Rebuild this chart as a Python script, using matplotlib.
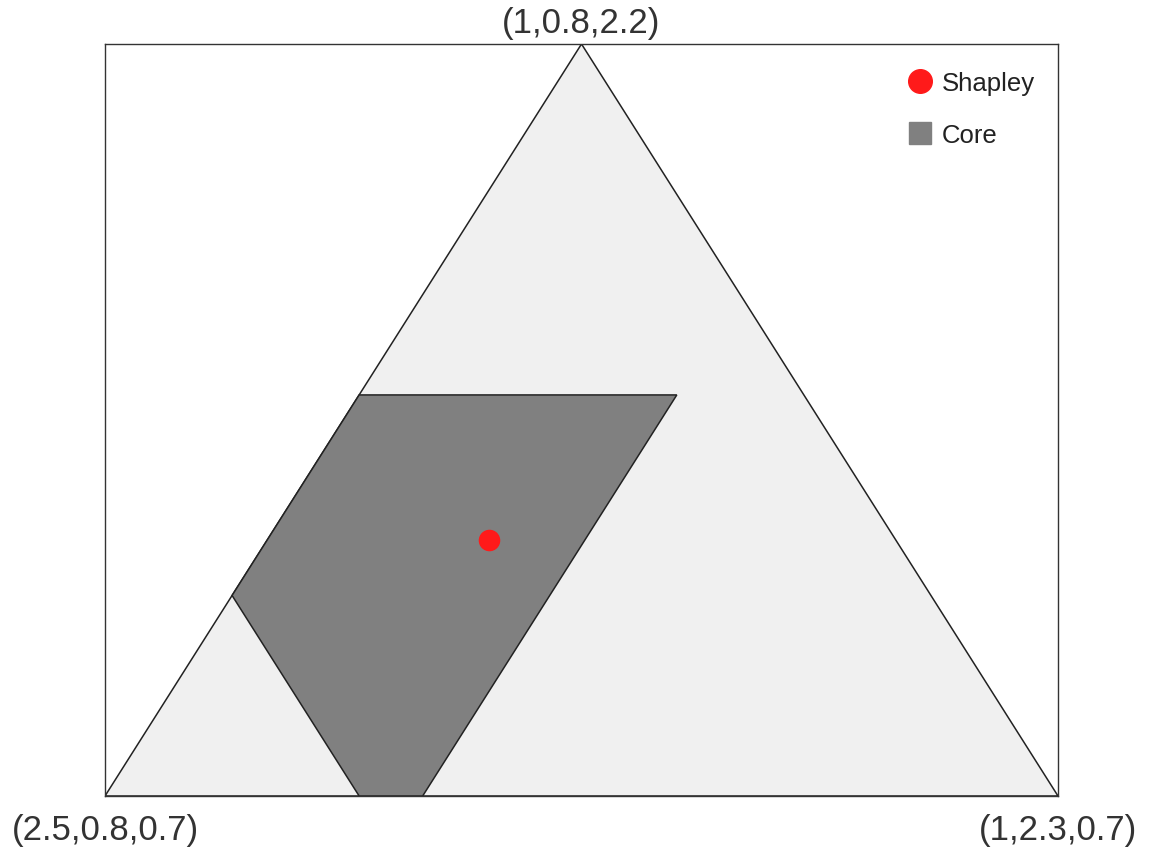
import numpy as np
import matplotlib
matplotlib.use('Agg')
import matplotlib.pyplot as plt
from matplotlib.lines import Line2D

plt.rcParams['font.family'] = ['Liberation Sans', 'DejaVu Sans']

# imputations (x1, x2, x3), total value 4
corner_labels = ['(2.5,0.8,0.7)', '(1,2.3,0.7)', '(1,0.8,2.2)']
corners = np.array([[2.5, 0.8, 0.7],
                    [1.0, 2.3, 0.7],
                    [1.0, 0.8, 2.2]])
core = np.array([[1.7, 0.8, 1.5],
                 [1.2, 1.3, 1.5],
                 [2.0, 1.3, 0.7],
                 [2.1, 1.2, 0.7],
                 [2.1, 0.8, 1.1]])
shapley = np.array([1.64, 1.15, 1.21])

lo = corners.min(axis=0)
span = corners.max(axis=0) - lo
tri_xy = np.array([[0, 0], [1, 0], [0.5, 1]])


def to_xy(p):
    w = (np.atleast_2d(p) - lo) / span
    w = w / w.sum(axis=1, keepdims=True)
    return w @ tri_xy


fig = plt.figure(figsize=(11.5, 8.54), dpi=100)
ax = fig.add_axes([105/1150, 57/854, 953/1150, 752/854])

txy = to_xy(corners)
ax.fill(txy[:, 0], txy[:, 1], facecolor='#f0f0f0', edgecolor='#222222', lw=1.1, zorder=1)
cxy = to_xy(core)
ax.fill(cxy[:, 0], cxy[:, 1], facecolor='#808080', edgecolor='#222222', lw=1.1, zorder=2)
sxy = to_xy(shapley)
ax.plot(sxy[:, 0], sxy[:, 1], 'o', color='#ff1a1a', ms=14.5, zorder=3)

ax.set_xlim(0, 1)
ax.set_ylim(0, 1)
ax.set_xticks([])
ax.set_yticks([])
for s in ax.spines.values():
    s.set_linewidth(1.0)
    s.set_color('#333333')

# corner labels
ax.text(txy[0, 0], -0.045, corner_labels[0], ha='center', va='center', fontsize=25, color='#333333')
ax.text(txy[1, 0], -0.045, corner_labels[1], ha='center', va='center', fontsize=25, color='#333333')
ax.text(txy[2, 0], 1.028, corner_labels[2], ha='center', va='center', fontsize=25, color='#333333')

handles = [Line2D([], [], marker='o', ls='none', color='#ff1a1a', ms=17),
           Line2D([], [], marker='s', ls='none', color='#808080', ms=16)]
ax.legend(handles, ['Shapley', 'Core'], loc='upper right', frameon=False, fontsize=18.5,
          handlelength=1.0, handletextpad=0.35, labelspacing=1.1,
          bbox_to_anchor=(1.0, 0.995), labelcolor='#222222')

fig.savefig('out.png', dpi=100)
